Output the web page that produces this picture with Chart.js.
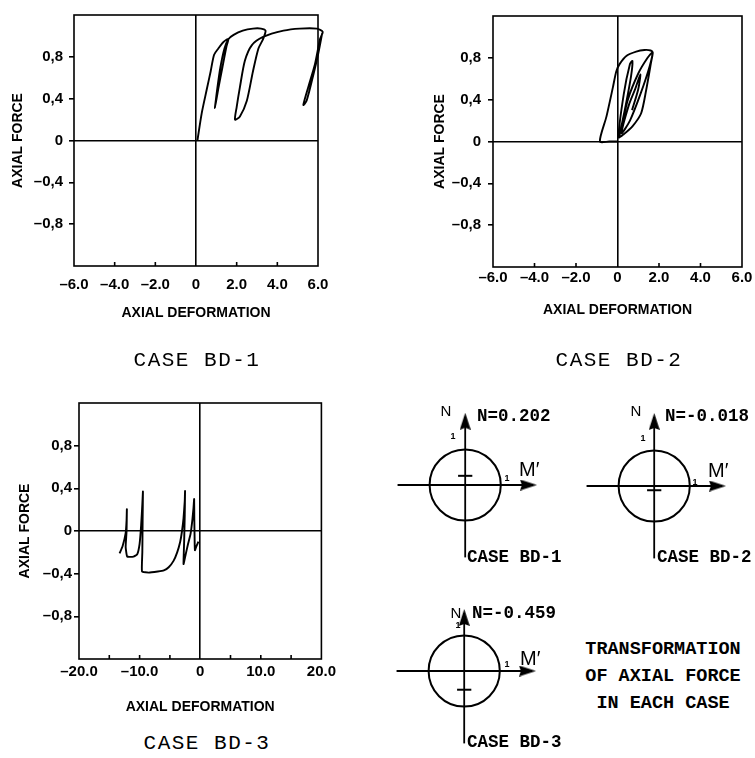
<!DOCTYPE html>
<html>
<head>
<meta charset="utf-8">
<script src="https://cdn.jsdelivr.net/npm/chart.js@4.4.1/dist/chart.umd.min.js"></script>
<style>
  body { margin: 0; background: #fff; }
  #page { position: relative; width: 755px; height: 758px; overflow: hidden; background: #fff; }
  canvas { position: absolute; }
  .t { position: absolute; white-space: nowrap; line-height: 1; color: #000; }
  .case { font: 21px 'Liberation Mono', monospace; letter-spacing: 1.5px; transform: translate(-50%, -50%); }
  .mono { font: bold 17.5px 'Liberation Mono', monospace; transform: translate(0, -50%); }
  .nn { font: 15px 'Liberation Sans', sans-serif; transform: translate(-50%, -50%); }
  .one { font: bold 9px 'Liberation Sans', sans-serif; transform: translate(-50%, -50%); }
  .mp { font: 20px 'Liberation Sans', sans-serif; transform: translate(0, -50%); }
  .note { font: bold 18.5px 'Liberation Mono', monospace; text-align: center; line-height: 27px; transform: translate(-50%, 0); }
</style>
</head>
<body>
<div id="page">
  <canvas id="c1" width="340" height="330" style="left:0;top:0"></canvas>
  <canvas id="c2" width="345" height="330" style="left:410px;top:0"></canvas>
  <canvas id="c3" width="340" height="350" style="left:0;top:370px"></canvas>
  <canvas id="d1" width="190" height="170"></canvas>
  <canvas id="d2" width="190" height="170"></canvas>
  <canvas id="d3" width="190" height="170"></canvas>
</div>
<script>
// case BD-1 : axial deformation / axial force
const bd1X = [0.07, 0.28, 0.52, 0.72, 0.89, 1.1, 1.34, 1.59, 1.5, 1.3, 1.1, 0.93,
  1.05, 1.2, 1.4, 1.6, 1.85, 2.3, 2.8, 3.2, 3.42, 3.3, 3.07, 2.8, 2.5, 2.16, 1.92,
  2.0, 2.16, 2.4, 2.74, 3.3, 4.3, 5.1, 5.94, 6.23, 6.1, 5.85, 5.52, 5.28,
  5.44, 5.76, 6.0, 6.2];
const bd1Y = [0.0, 0.26, 0.48, 0.66, 0.82, 0.88, 0.94, 0.97, 0.9, 0.7, 0.5, 0.31,
  0.5, 0.7, 0.88, 0.97, 1.01, 1.05, 1.07, 1.07, 1.05, 0.97, 0.88, 0.66, 0.38, 0.23, 0.2,
  0.32, 0.51, 0.76, 0.91, 0.99, 1.05, 1.07, 1.07, 1.04, 0.97, 0.73, 0.51, 0.34,
  0.38, 0.62, 0.82, 1.02];

// case BD-2
const bd2X = [0.0, -0.4, -0.85, -0.53, -0.22, -0.06, 0.1, 0.44, 0.9, 1.3, 1.6, 1.7,
  1.62, 1.38, 1.14, 0.74, 0.3, 0.05,
  0.3, 0.6, 0.72, 0.65, 0.4, 0.1,
  0.5, 1.0, 1.45, 1.68, 1.55, 1.1, 0.6, 0.2,
  0.55, 0.85, 1.1, 1.0, 0.7];
const bd2Y = [0.0, 0.0, 0.0, 0.24, 0.52, 0.67, 0.74, 0.82, 0.86, 0.875, 0.87, 0.85,
  0.76, 0.49, 0.27, 0.15, 0.07, 0.04,
  0.45, 0.74, 0.77, 0.62, 0.35, 0.06,
  0.4, 0.65, 0.8, 0.85, 0.72, 0.45, 0.2, 0.08,
  0.35, 0.5, 0.64, 0.5, 0.3];

// case BD-3
const bd3X = [-13.3, -12.8, -12.3, -12.15, -12.1, -12.15, -12.3, -12.05, -11.0, -10.4,
  -10.0, -9.75, -9.55, -9.45, -9.5, -9.55, -9.6, -8.5, -7.0, -6.0, -5.2, -4.4, -3.8,
  -3.3, -3.0, -2.75, -2.55, -2.5, -2.55, -2.65, -2.75, -2.4, -2.0, -1.6, -1.3, -1.1,
  -1.0, -0.97, -0.92, -0.87, -0.6, -0.3];
const bd3Y = [-0.21, -0.14, -0.02, 0.1, 0.205, 0.0, -0.15, -0.24, -0.24, -0.22,
  -0.12, 0.05, 0.25, 0.37, 0.1, -0.2, -0.38, -0.39, -0.38, -0.37, -0.34, -0.28, -0.2,
  -0.1, 0.0, 0.12, 0.28, 0.375, 0.15, -0.1, -0.31, -0.22, -0.12, -0.03, 0.1, 0.22,
  0.3, 0.1, -0.08, -0.18, -0.14, -0.1];

// transformation diagrams
const caseNames = ['CASE BD-1', 'CASE BD-2', 'CASE BD-3'];
const nValues = [0.202, -0.018, -0.459];
const dashLevel = [0.26, -0.12, -0.53];   // where the marker sits in the sketch
const noteLines = ['TRANSFORMATION', 'OF AXIAL FORCE', 'IN EACH CASE'];

const pts = (xs, ys) => xs.map((x, i) => ({x: x, y: ys[i]}));
const isZero = v => Math.abs(v) < 1e-9;
const dash = '\u2013';

const framePlugin = {
  id: 'frame',
  afterDraw(chart) {
    const {ctx, chartArea: a, scales: {x}} = chart;
    ctx.save();
    ctx.strokeStyle = '#000';
    ctx.lineWidth = 1.6;
    ctx.strokeRect(a.left, a.top, a.right - a.left, a.bottom - a.top);
    x.ticks.forEach(t => {
      if (isZero(t.value) || t.value <= x.min || t.value >= x.max) return;
      const px = x.getPixelForValue(t.value);
      ctx.beginPath();
      ctx.moveTo(px, a.bottom);
      ctx.lineTo(px, a.bottom - 4);
      ctx.stroke();
    });
    ctx.restore();
  }
};

const tickFont = {family: "'Liberation Sans', Arial, sans-serif", size: 15, weight: 'bold'};
const titleFont = {family: "'Liberation Sans', Arial, sans-serif", size: 14, weight: 'bold'};

function hysteresis(id, xs, ys, o) {
  new Chart(document.getElementById(id), {
    type: 'scatter',
    data: {
      datasets: [{
        data: pts(xs, ys),
        showLine: true,
        borderColor: '#000',
        borderWidth: 1.9,
        pointRadius: 0,
        tension: o.tension,
        clip: false
      }]
    },
    options: {
      responsive: false,
      animation: false,
      events: [],
      layout: {padding: o.padding},
      plugins: {legend: {display: false}, tooltip: {enabled: false}},
      scales: {
        x: {
          min: o.xMin, max: o.xMax,
          border: {display: false},
          afterFit: s => { s.height = o.xH; },
          grid: {
            drawTicks: false,
            lineWidth: 1.6,
            color: c => isZero(c.tick.value) ? '#000' : 'rgba(0,0,0,0)'
          },
          ticks: {
            stepSize: o.xStep,
            autoSkip: false,
            maxRotation: 0,
            padding: o.xTickPad,
            color: '#000',
            font: tickFont,
            callback: v => {
              if (isZero(v)) return '0';
              if (Math.abs(v % o.xLabelEvery) > 1e-6) return '';
              return (v < 0 ? dash : '') + Math.abs(v).toFixed(1);
            }
          },
          title: {
            display: true, text: 'AXIAL DEFORMATION', color: '#000', font: titleFont,
            padding: {top: 0, bottom: o.xTitlePad}
          }
        },
        y: {
          min: -1.2, max: 1.2,
          border: {display: false},
          afterFit: s => { s.width = o.yW; },
          grid: {
            drawTicks: true,
            tickLength: 5,
            lineWidth: 1.6,
            color: c => isZero(c.tick.value) ? '#000' : 'rgba(0,0,0,0)',
            tickColor: c => Math.abs(c.tick.value) > 1.1 ? 'rgba(0,0,0,0)' : '#000'
          },
          ticks: {
            stepSize: 0.4,
            padding: o.yTickPad,
            color: '#000',
            font: tickFont,
            callback: v => {
              const r = Math.round(v * 10) / 10;
              if (Math.abs(r) > 1.1) return '';
              if (r === 0) return '0';
              return (r < 0 ? dash : '') + Math.abs(r).toFixed(1).replace('.', ',');
            }
          },
          title: {
            display: true, text: 'AXIAL FORCE', color: '#000', font: titleFont,
            padding: {top: o.yTitlePad, bottom: 0}
          }
        }
      }
    },
    plugins: [framePlugin]
  });
}

hysteresis('c1', bd1X, bd1Y, {
  xMin: -6, xMax: 6, xStep: 2, xLabelEvery: 2, tension: 0.25,
  padding: {top: 10, right: 22, left: 0, bottom: 0},
  yW: 74, xH: 64, yTitlePad: 9.6, yTickPad: 6, xTickPad: 10, xTitlePad: 8.6
});
hysteresis('c2', bd2X, bd2Y, {
  xMin: -6, xMax: 6, xStep: 2, xLabelEvery: 2, tension: 0.25,
  padding: {top: 10, right: 13, left: 0, bottom: 0},
  yW: 83, xH: 63, yTitlePad: 21.6, yTickPad: 7, xTickPad: 2, xTitlePad: 11.6
});
hysteresis('c3', bd3X, bd3Y, {
  xMin: -20, xMax: 20, xStep: 5, xLabelEvery: 10, tension: 0.12,
  padding: {top: 33, right: 15, left: 0, bottom: 0},
  yW: 79, xH: 61, yTitlePad: 16.6, yTickPad: 2, xTickPad: 4, xTitlePad: 4.6
});

// ---- transformation sketches ----
const UNIT = 38;  // px for N or M' = 1

function arrowImage() {
  const c = document.createElement('canvas');
  c.width = 11; c.height = 17;
  const g = c.getContext('2d');
  g.fillStyle = '#000';
  g.beginPath();
  g.moveTo(5.5, 0); g.lineTo(11, 17); g.lineTo(5.5, 15); g.lineTo(0, 17);
  g.closePath(); g.fill();
  return c;
}
const arrow = arrowImage();

const circlePlugin = {
  id: 'circle',
  afterDatasetsDraw(chart) {
    const {ctx, scales: {x, y}} = chart;
    const r = x.getPixelForValue(1) - x.getPixelForValue(0);
    ctx.save();
    ctx.strokeStyle = '#000';
    ctx.lineWidth = 2;
    ctx.beginPath();
    ctx.arc(x.getPixelForValue(0), y.getPixelForValue(0), r, 0, Math.PI * 2);
    ctx.stroke();
    ctx.restore();
  }
};

const sketches = [
  {id: 'd1', cx: 464, cy: 485, vTop: 2.03},
  {id: 'd2', cx: 653, cy: 486, vTop: 2.05},
  {id: 'd3', cx: 463, cy: 671, vTop: 1.74}
];

sketches.forEach((s, i) => {
  const el = document.getElementById(s.id);
  const left = s.cx - 76, top = s.cy - 85;
  el.style.left = left + 'px';
  el.style.top = top + 'px';
  const line = (data, w) => ({data: data, showLine: true, borderColor: '#000',
    borderWidth: w, pointRadius: 0, clip: false});
  new Chart(el, {
    type: 'scatter',
    data: {
      datasets: [
        line([{x: -1.9, y: 0}, {x: 1.9, y: 0}], 1.8),
        line([{x: 0, y: -2.05}, {x: 0, y: s.vTop - 0.1}], 1.8),
        line([{x: -0.2, y: dashLevel[i]}, {x: 0.2, y: dashLevel[i]}], 2),
        {data: [{x: 0, y: s.vTop - 8.5 / UNIT}], pointStyle: arrow, pointRadius: 5, rotation: 0, clip: false},
        {data: [{x: 2.0 - 8.5 / UNIT, y: 0}], pointStyle: arrow, pointRadius: 5, rotation: 90, clip: false}
      ]
    },
    options: {
      responsive: false,
      animation: false,
      events: [],
      layout: {padding: 0},
      plugins: {legend: {display: false}, tooltip: {enabled: false}},
      scales: {
        x: {display: false, min: -76 / UNIT, max: (190 - 76) / UNIT},
        y: {display: false, min: -85 / UNIT, max: 85 / UNIT}
      }
    },
    plugins: [circlePlugin]
  });
});

// ---- text ----
const page = document.getElementById('page');
function text(str, cls, x, y) {
  const d = document.createElement('div');
  d.className = 't ' + cls;
  d.textContent = str;
  d.style.left = x + 'px';
  d.style.top = y + 'px';
  page.appendChild(d);
  return d;
}

// captions under the plots
text(caseNames[0], 'case', 197, 360);
text(caseNames[1], 'case', 619, 360);
text(caseNames[2], 'case', 207, 743);

const nStr = v => 'N=' + v.toFixed(3);
// sketch BD-1
text('N', 'nn', 446, 410);
text(nStr(nValues[0]), 'mono', 477, 416);
text('1', 'one', 453, 436);
text('1', 'one', 507, 478);
text('M\u2032', 'mp', 519, 469);
text(caseNames[0], 'mono', 467, 557);
// sketch BD-2
text('N', 'nn', 636, 410);
text(nStr(nValues[1]), 'mono', 665, 416);
text('1', 'one', 643, 438);
text('1', 'one', 695, 482);
text('M\u2032', 'mp', 708, 470);
text(caseNames[1], 'mono', 657, 557);
// sketch BD-3
text('N', 'nn', 456, 612);
text(nStr(nValues[2]), 'mono', 472, 613);
text('1', 'one', 458, 625);
text('1', 'one', 507, 664);
text('M\u2032', 'mp', 520, 658);
text(caseNames[2], 'mono', 467, 742);

const note = text('', 'note', 663, 636);
note.innerHTML = noteLines.join('<br>');
</script>
</body>
</html>
